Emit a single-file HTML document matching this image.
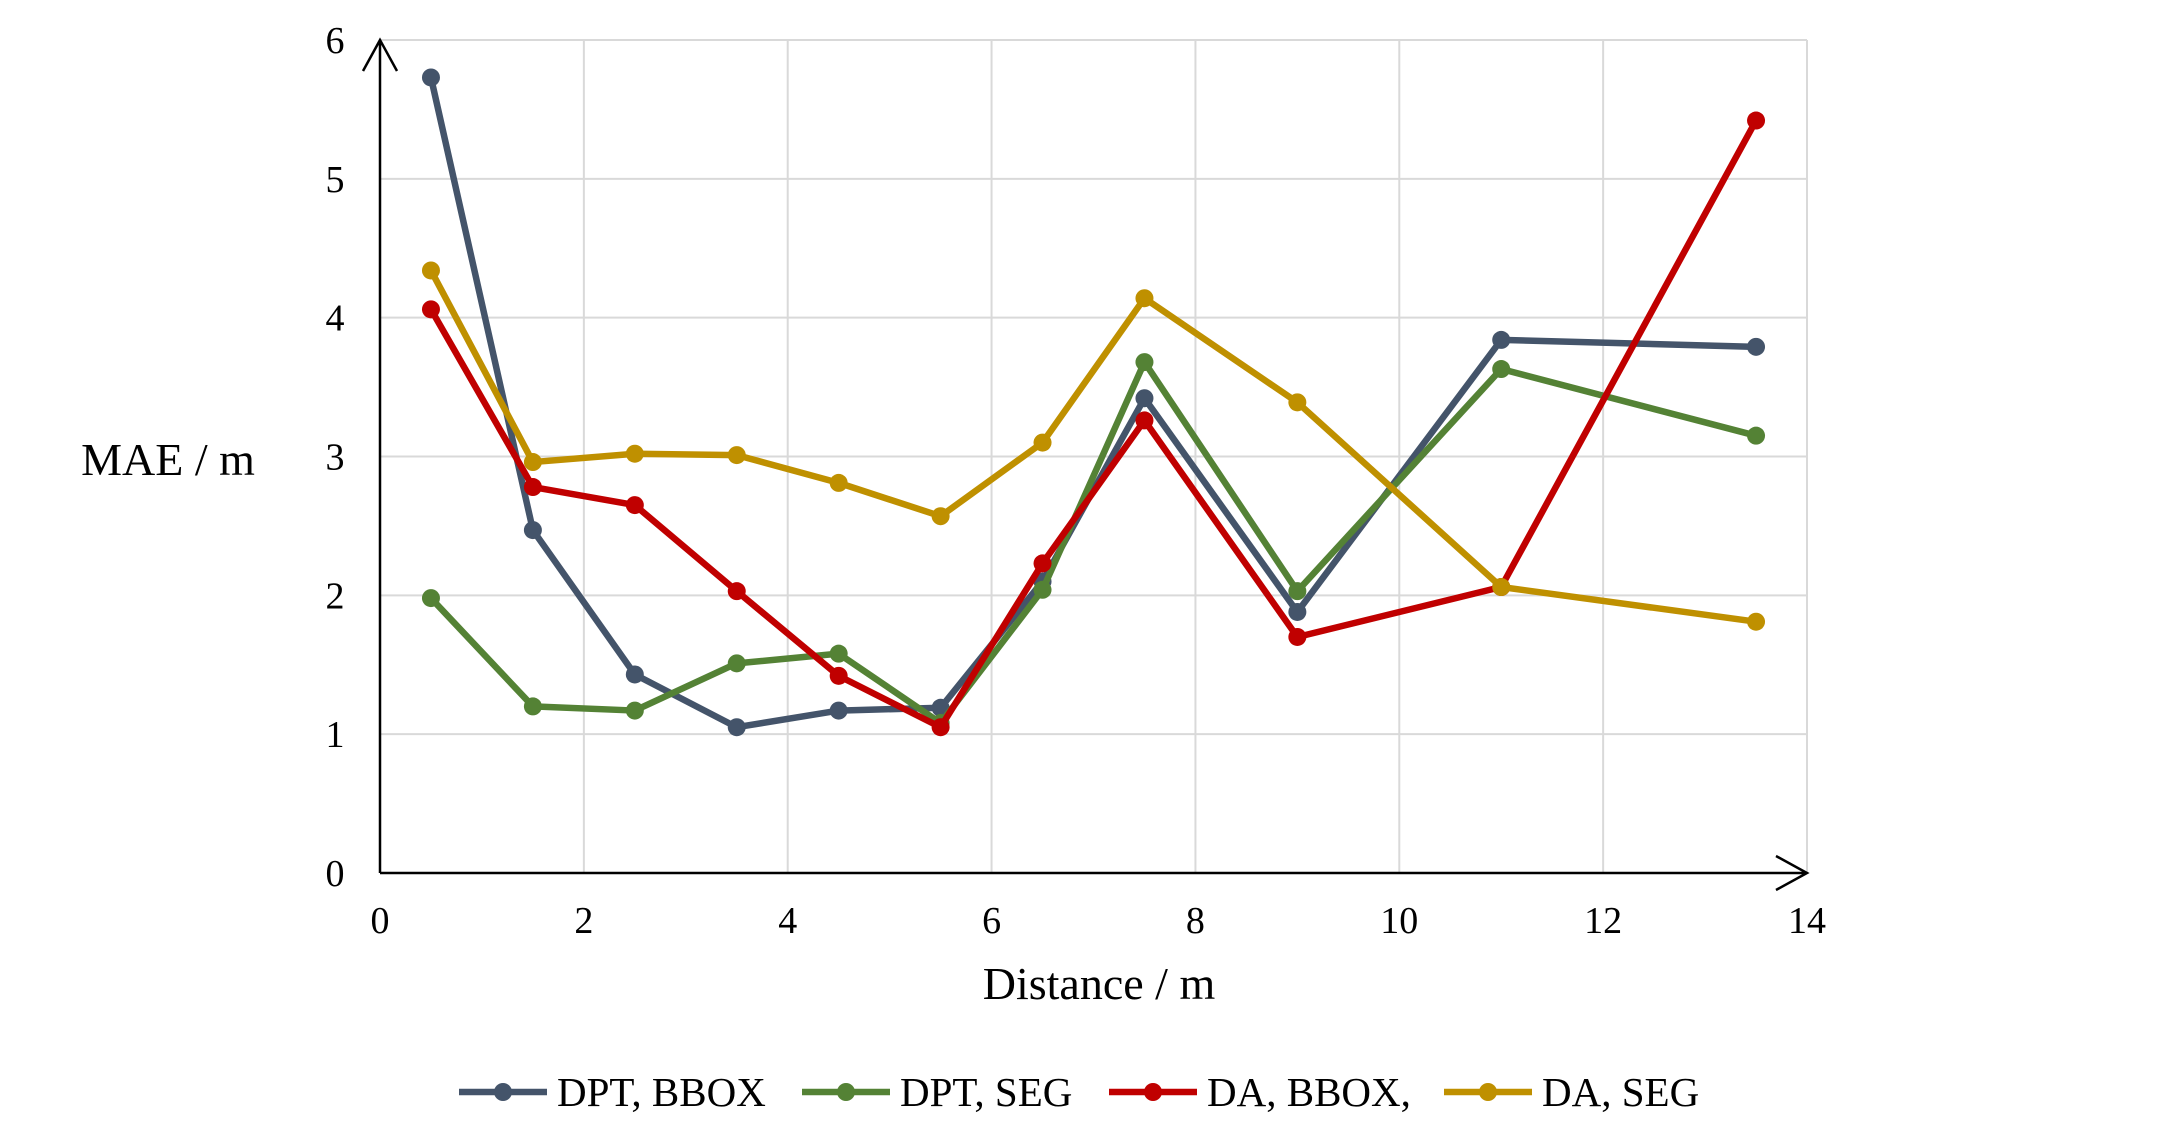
<!DOCTYPE html>
<html><head><meta charset="utf-8"><style>
html,body{margin:0;padding:0;background:#fff;}
svg{display:block;font-family:"Liberation Serif",serif;}
</style></head><body>
<svg id="chart" width="2181" height="1127" viewBox="0 0 2181 1127">
<g id="grid"></g>
<g id="series"></g>
<g id="axes"></g>
<text x="168" y="475" font-size="46" text-anchor="middle">MAE / m</text>
<text x="1099" y="999" font-size="46" text-anchor="middle">Distance / m</text>
<g id="legend"></g>
</svg>
<script>
const xs = [0.5,1.5,2.5,3.5,4.5,5.5,6.5,7.5,9,11,13.5];
const dptBbox = [5.73,2.47,1.43,1.05,1.17,1.19,2.1,3.42,1.88,3.84,3.79];
const dptSeg = [1.98,1.20,1.17,1.51,1.58,1.08,2.04,3.68,2.03,3.63,3.15];
const daBbox = [4.06,2.78,2.65,2.03,1.42,1.05,2.23,3.26,1.70,2.06,5.42];
const daSeg = [4.34,2.96,3.02,3.01,2.81,2.57,3.10,4.14,3.39,2.06,1.81];
const xTicks = [0,2,4,6,8,10,12,14];
const yTicks = [0,1,2,3,4,5,6];
const seriesNames = ["DPT, BBOX","DPT, SEG","DA, BBOX,","DA, SEG"];
const seriesColors = ["#44546a","#548235","#c00000","#bf9000"];
const seriesData = [dptBbox,dptSeg,daBbox,daSeg];

const NS="http://www.w3.org/2000/svg";
const X0=380,X1=1807,Y0=873,Y1=40;
const sx=v=>X0+(v-0)/(14-0)*(X1-X0);
const sy=v=>Y0-(v-0)/(6-0)*(Y0-Y1);
function mk(tag,attrs,parent){const e=document.createElementNS(NS,tag);for(const k in attrs)e.setAttribute(k,attrs[k]);parent.appendChild(e);return e;}
const grid=document.getElementById('grid'),axes=document.getElementById('axes'),ser=document.getElementById('series'),leg=document.getElementById('legend');
xTicks.forEach(t=>{
  if(t>0){const l=mk('line',{x1:sx(t),x2:sx(t),y1:Y1,y2:Y0,stroke:'#d9d9d9','stroke-width':2},grid);
  
  }
  const tx=mk('text',{x:sx(t),y:Y0+60,'font-size':38,'text-anchor':'middle'},axes);tx.textContent=t;
  
  
});
yTicks.forEach(t=>{
  if(t>0){const l=mk('line',{x1:X0,x2:X1,y1:sy(t),y2:sy(t),stroke:'#d9d9d9','stroke-width':2},grid);
  
  }
  const tx=mk('text',{x:X0-45,y:sy(t)+13,'font-size':38,'text-anchor':'middle'},axes);tx.textContent=t;
  
  
});
const ya=mk('path',{d:`M${X0} ${Y0} L${X0} ${Y1} M${X0-17} ${Y1+31} L${X0} ${Y1} L${X0+17} ${Y1+31}`,stroke:'#000','stroke-width':2.5,fill:'none'},axes);


const xa=mk('path',{d:`M${X0} ${Y0} L${X1} ${Y0} M${X1-31} ${Y0-17} L${X1} ${Y0} L${X1-31} ${Y0+17}`,stroke:'#000','stroke-width':2.5,fill:'none'},axes);


seriesData.forEach((d,i)=>{
  const g=mk('g',{},ser);
  
  
  const pts=d.map((v,j)=>sx(xs[j])+','+sy(v)).join(' ');
  const pl=mk('polyline',{points:pts,fill:'none',stroke:seriesColors[i],'stroke-width':6.5,'stroke-linejoin':'round'},g);
  
  
  d.forEach((v,j)=>{const c=mk('circle',{cx:sx(xs[j]),cy:sy(v),r:9,fill:seriesColors[i]},g);
    
    });
});
const legX=[459,802,1109,1444];
seriesNames.forEach((n,i)=>{
  const g=mk('g',{},leg);
  
  
  mk('line',{x1:legX[i],x2:legX[i]+88,y1:1092,y2:1092,stroke:seriesColors[i],'stroke-width':6.5},g);
  mk('circle',{cx:legX[i]+44,cy:1092,r:9,fill:seriesColors[i]},g);
  const t=mk('text',{x:legX[i]+98,y:1106,'font-size':41},g);t.textContent=n;
});
</script>
</body></html>
